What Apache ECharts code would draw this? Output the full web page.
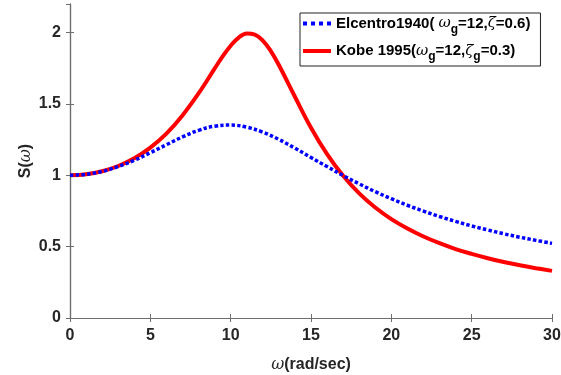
<!DOCTYPE html>
<html>
<head>
<meta charset="utf-8">
<script src="https://cdn.jsdelivr.net/npm/echarts@6/dist/echarts.min.js"></script>
<style>
  html, body { margin: 0; padding: 0; background: #fff; }
  #chart { width: 561px; height: 375px; }
</style>
</head>
<body>
<div id="chart"></div>
<script>
// omega (rad/sec)
const omega = [0, 1, 2, 3, 4, 5, 6, 7, 8, 9, 10, 11, 12, 13, 14, 15,
  16, 17, 18, 19, 20, 21, 22, 23, 24, 25, 26, 27, 28, 29, 30]

// Elcentro1940 (wg=12, zeta=0.6)
const elcentro = [1.000, 1.007, 1.027, 1.061, 1.105, 1.158, 1.214, 1.269, 1.315, 1.344,
  1.352, 1.337, 1.302, 1.251, 1.190, 1.125, 1.061, 0.998, 0.940, 0.885,
  0.836, 0.790, 0.749, 0.711, 0.677, 0.645, 0.617, 0.590, 0.566, 0.544, 0.523]

// Kobe 1995 (wg=12, zeta_g=0.3), denser near the peak
const omegaKobe = [0, 1, 2, 3, 4, 5, 6, 7, 8, 9, 9.5, 10, 10.5, 11, 11.5, 12, 12.5, 13, 14, 15,
  16, 17, 18, 19, 20, 21, 22, 23, 24, 25, 26, 27, 28, 29, 30]
const kobe = [1.000, 1.007, 1.028, 1.065, 1.119, 1.194, 1.292, 1.419, 1.573, 1.747,
  1.833, 1.908, 1.965, 1.993, 1.986, 1.944, 1.870, 1.773, 1.550, 1.333,
  1.148, 0.996, 0.873, 0.774, 0.693, 0.627, 0.571, 0.524, 0.483, 0.449,
  0.419, 0.392, 0.369, 0.349, 0.330]

const xTicks = [0, 5, 10, 15, 20, 25, 30]
const yTicks = [0, 0.5, 1, 1.5, 2]

const chart = echarts.init(document.getElementById('chart'))

const pair = (xs, ys) => xs.map((x, i) => [x, ys[i]])

const axisColor = '#6e6e6e'
const tickFont = {
  color: '#262626',
  fontSize: 16,
  fontWeight: 'bold',
  fontFamily: 'Liberation Sans, Arial, sans-serif'
}

// 图例富文本
const rich = {
  b: { fontSize: 15, fontWeight: 'bold', color: '#000', lineHeight: 24, fontFamily: 'Liberation Sans, Arial' },
  i: { fontSize: 15, fontStyle: 'italic', color: '#000', lineHeight: 24, fontFamily: 'DejaVu Serif, serif' },
  s: { fontSize: 12, fontWeight: 'bold', color: '#000', lineHeight: 12, verticalAlign: 'bottom', fontFamily: 'Liberation Sans, Arial' }
}

// 坐标轴标题富文本
const nameRich = {
  b: { fontSize: 16, fontWeight: 'bold', color: '#262626', fontFamily: 'Liberation Sans, Arial' },
  i: { fontSize: 16, fontStyle: 'italic', color: '#262626', fontFamily: 'DejaVu Serif, serif' }
}

const option = {
  animation: false,
  backgroundColor: '#fff',
  grid: { left: 70, right: 9, top: 4, bottom: 57, outerBoundsMode: 'none' },
  legend: {
    orient: 'vertical',
    left: 300,
    top: 13,
    width: 241,
    padding: [3, 10, 3, 3],
    itemGap: 8,
    itemWidth: 28,
    itemHeight: 4,
    borderColor: '#222',
    borderWidth: 1,
    backgroundColor: '#fff',
    data: [
      { name: 'Elcentro', icon: 'path://M0,0h4v4h-4zM8,0h4v4h-4zM16,0h4v4h-4zM24,0h4v4h-4z' },
      { name: 'Kobe', icon: 'path://M0,0h28v4h-28z' }
    ],
    formatter: function (name) {
      if (name === 'Elcentro') {
        return '{b|Elcentro1940( }{i|ω}{s|g}{b|=12,}{i|ζ}{b|=0.6)}'
      }
      return '{b|Kobe 1995(}{i|ω}{s|g}{b|=12,}{i|ζ}{s|g}{b|=0.3)}'
    },
    textStyle: { rich: rich }
  },
  xAxis: [
    {
      type: 'value',
      min: 0,
      max: 30,
      interval: 5,
      name: '{i|ω}{b|(rad/sec)}',
      nameLocation: 'middle',
      nameGap: 39,
      nameMoveOverlap: false,
      nameTextStyle: { rich: nameRich },
      axisLine: { lineStyle: { color: axisColor, width: 1.2 } },
      axisTick: { inside: true, length: 4, lineStyle: { color: axisColor } },
      axisLabel: Object.assign({ margin: 10 }, tickFont),
      splitLine: { show: false }
    },
    {
      type: 'value',
      position: 'top',
      min: 0,
      max: 30,
      interval: 5,
      axisLine: { show: true, lineStyle: { color: axisColor, width: 1.2 } },
      axisTick: { show: true, inside: true, length: 4, lineStyle: { color: axisColor } },
      axisLabel: { show: false },
      splitLine: { show: false }
    }
  ],
  yAxis: [
    {
      type: 'value',
      min: 0,
      max: 2.2,
      interval: 0.5,
      name: '{b|S(}{i|ω}{b|)}',
      nameLocation: 'middle',
      nameGap: 36,
      nameMoveOverlap: false,
      nameRotate: 90,
      nameTextStyle: { rich: nameRich },
      axisLine: { show: true, lineStyle: { color: axisColor, width: 1.2 } },
      axisTick: { show: true, inside: true, length: 4, lineStyle: { color: axisColor } },
      axisLabel: Object.assign({
        margin: 9,
        showMaxLabel: false,
        formatter: v => (yTicks.indexOf(v) >= 0 ? String(v) : '')
      }, tickFont),
      splitLine: { show: false }
    },
    {
      type: 'value',
      position: 'right',
      min: 0,
      max: 2.2,
      interval: 0.5,
      axisLine: { show: true, lineStyle: { color: axisColor, width: 1.2 } },
      axisTick: { show: true, inside: true, length: 4, lineStyle: { color: axisColor } },
      axisLabel: { show: false },
      splitLine: { show: false }
    }
  ],
  series: [
    {
      name: 'Elcentro',
      type: 'line',
      smooth: 0.4,
      symbol: 'none',
      data: pair(omega, elcentro),
      lineStyle: { color: '#0000ff', width: 3.5, type: [3.5, 2.2] },
      itemStyle: { color: '#0000ff' },
      z: 3
    },
    {
      name: 'Kobe',
      type: 'line',
      smooth: 0.4,
      symbol: 'none',
      data: pair(omegaKobe, kobe),
      lineStyle: { color: '#ff0000', width: 4 },
      itemStyle: { color: '#ff0000' },
      z: 2
    }
  ]
}

chart.setOption(option)
</script>
</body>
</html>
